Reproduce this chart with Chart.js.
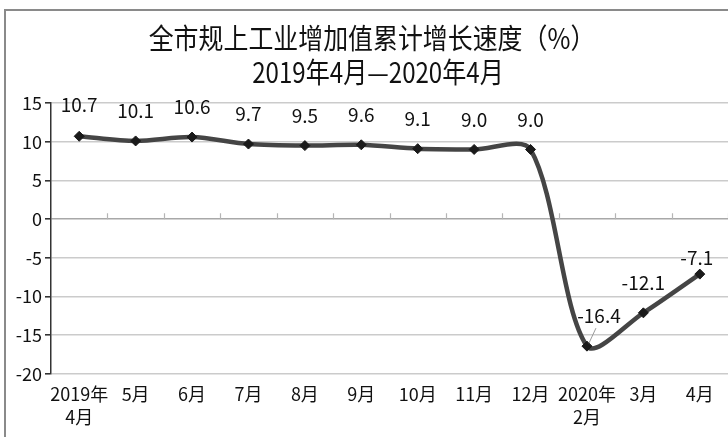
<!DOCTYPE html>
<html>
<head>
<meta charset="utf-8">
<script src="https://cdn.jsdelivr.net/npm/chart.js@4/dist/chart.umd.min.js"></script>
<style>
  html, body { margin: 0; padding: 0; background: #ffffff; }
  #wrap { position: relative; width: 728px; height: 437px; }
</style>
</head>
<body>
<div id="wrap"><canvas id="c" width="728" height="437"></canvas></div>
<script>
const titleLines = ['全市规上工业增加值累计增长速度（%）', '2019年4月—2020年4月'];
const categories = [['2019年', '4月'], '5月', '6月', '7月', '8月', '9月', '10月', '11月', '12月', ['2020年', '2月'], '3月', '4月'];
const growth = [10.7, 10.1, 10.6, 9.7, 9.5, 9.6, 9.1, 9.0, 9.0, -16.4, -12.1, -7.1];
const yTicks = { min: -20, max: 15, step: 5 };

const FONT = "'Noto Sans CJK SC', 'Noto Sans', sans-serif";

const framePlugin = {
  id: 'frame',
  beforeDraw(chart) {
    const ctx = chart.ctx;
    ctx.save();
    ctx.fillStyle = '#ffffff';
    ctx.fillRect(0, 0, chart.width, chart.height);
    ctx.strokeStyle = '#8a8a8a';
    ctx.lineWidth = 2;
    ctx.beginPath();
    ctx.moveTo(5, chart.height);
    ctx.lineTo(5, 10);
    ctx.lineTo(chart.width, 10);
    ctx.stroke();
    // title (slightly condensed like the original)
    ctx.fillStyle = '#111111';
    ctx.textAlign = 'center';
    ctx.textBaseline = 'middle';
    ctx.font = '28px ' + FONT;
    ctx.save();
    ctx.translate(372, 38);
    ctx.scale(0.89, 1);
    ctx.fillText(titleLines[0], 0, 0);
    ctx.restore();
    ctx.save();
    ctx.translate(378, 72);
    ctx.scale(0.86, 1);
    ctx.fillText(titleLines[1], 0, 0);
    ctx.restore();
    ctx.restore();
  },
  beforeDatasetsDraw(chart) {
    // small tick marks on zero line between categories
    const ctx = chart.ctx;
    const y = chart.scales.y;
    const y0 = y.getPixelForValue(0);
    const n = chart.data.labels.length;
    const step = (chart.chartArea.right - chart.chartArea.left) / n;
    ctx.save();
    ctx.strokeStyle = '#b5b5b5';
    ctx.lineWidth = 1.2;
    ctx.beginPath();
    for (let k = 1; k <= n; k++) {
      const px = Math.round(chart.chartArea.left + k * step) + 0.5;
      ctx.moveTo(px, y0);
      ctx.lineTo(px, y0 - 6);
    }
    ctx.stroke();
    ctx.restore();
  }
};

const labelPlugin = {
  id: 'pointLabels',
  afterDatasetsDraw(chart) {
    const ctx = chart.ctx;
    const meta = chart.getDatasetMeta(0);
    const ds = chart.data.datasets[0];
    ctx.save();
    ctx.font = '19px ' + FONT;
    ctx.fillStyle = '#111111';
    ctx.textAlign = 'center';
    ctx.textBaseline = 'middle';
    meta.data.forEach((pt, i) => {
      let dx = 0, dy = -30;
      if (i === 0) dy = -32;
      if (i === 9) { dx = 12; dy = -30; }
      if (i === 11) { dx = -3; dy = -16; }
      const v = ds.data[i];
      ctx.fillText(v.toFixed(1), pt.x + dx, pt.y + dy);
      if (i === 9) {
        ctx.strokeStyle = '#9a9a9a';
        ctx.lineWidth = 1;
        ctx.beginPath();
        ctx.moveTo(pt.x + dx - 3, pt.y + dy + 12);
        ctx.lineTo(pt.x + 2, pt.y - 3);
        ctx.stroke();
      }
    });
    ctx.restore();
  }
};

new Chart(document.getElementById('c'), {
  type: 'line',
  data: {
    labels: categories,
    datasets: [{
      data: growth,
      borderColor: '#454545',
      borderWidth: 4.5,
      tension: 0.3,
      pointStyle: 'rectRot',
      pointRadius: 5,
      pointBackgroundColor: '#1a1a1a',
      pointBorderColor: '#1a1a1a',
      pointBorderWidth: 1,
      fill: false
    }]
  },
  options: {
    responsive: false,
    animation: false,
    devicePixelRatio: 1,
    layout: { autoPadding: false, padding: { top: 103, right: 0, left: 0, bottom: 0 } },
    plugins: {
      legend: { display: false },
      title: { display: false },
      tooltip: { enabled: false }
    },
    scales: {
      x: {
        offset: true,
        grid: { display: false },
        border: { display: false },
        ticks: {
          color: '#111111',
          font: { family: FONT, size: 18, lineHeight: 1.3 },
          padding: 0,
          maxRotation: 0,
          autoSkip: false
        },
        afterFit(scale) {
          scale.height = 63;
          scale.paddingLeft = 0;
          scale.paddingRight = 0;
        }
      },
      y: {
        min: yTicks.min,
        max: yTicks.max,
        ticks: {
          stepSize: yTicks.step,
          color: '#111111',
          font: { family: FONT, size: 18 },
          padding: 3
        },
        grid: {
          color: (c) => c.tick && c.tick.value === 0 ? '#a8a8a8' : '#cbcbcb',
          lineWidth: 1.6,
          tickColor: '#333333',
          tickLength: 6
        },
        border: { color: '#333333', width: 1.5 },
        afterFit(scale) { scale.width = 51; }
      }
    }
  },
  plugins: [framePlugin, labelPlugin]
});
</script>
</body>
</html>
